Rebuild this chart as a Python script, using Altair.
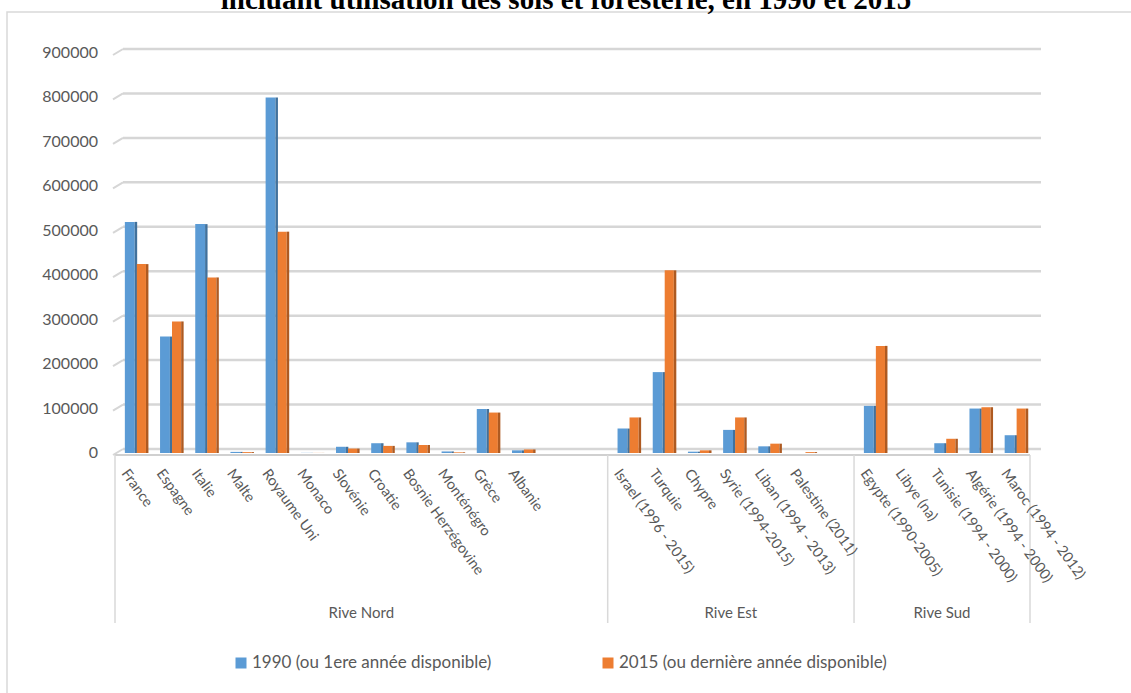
import altair as alt
import pandas as pd

# ---------------- data ----------------
rive_nord = ["France", "Espagne", "Italie", "Malte", "Royaume Uni", "Monaco", "Slovénie",
             "Croatie", "Bosnie Herzégovine", "Monténégro", "Grèce", "Albanie"]
rive_est = ["Israel (1996 - 2015)", "Turquie", "Chypre", "Syrie (1994-2015)",
            "Liban (1994 - 2013)", "Palestine (2011)"]
rive_sud = ["Egypte (1990-2005)", "Libye (na)", "Tunisie (1994 - 2000)",
            "Algérie (1994 - 2000)", "Maroc (1994 - 2012)"]

v1990_nord = [520000, 262000, 515000, 2500, 800000, 300, 14000, 22000, 24000, 3500, 99000, 6000]
v2015_nord = [425000, 296000, 395000, 2000, 498000, 200, 10000, 16000, 18000, 1500, 91000, 8000]
v1990_est = [55000, 182000, 3000, 52000, 15000, None]
v2015_est = [80000, 411000, 6000, 80000, 21000, 2000]
v1990_sud = [106000, None, 22000, 100000, 40000]
v2015_sud = [241000, None, 32000, 103000, 100000]

groups = ["Rive Nord", "Rive Est", "Rive Sud"]
group_slots = [14, 7, 5]          # category slots per group on the axis (incl. empty ones)
series = ["1990 (ou 1ere année disponible)", "2015 (ou dernière année disponible)"]
y_ticks = [0, 100000, 200000, 300000, 400000, 500000, 600000, 700000, 800000, 900000]
title_text = "incluant utilisation des sols et foresterie, en 1990 et 2015"

# ---------------- tables ----------------
rows = []
grp_rows = []
start = 0
for g, names, a, b, n in zip(groups, [rive_nord, rive_est, rive_sud],
                             [v1990_nord, v1990_est, v1990_sud],
                             [v2015_nord, v2015_est, v2015_sud], group_slots):
    for i, name in enumerate(names):
        rows.append({"country": name, "group": g, "slot": start + i, "v1990": a[i], "v2015": b[i]})
    grp_rows.append({"group": g, "start": start, "end": start + n, "mid": start + n / 2})
    start += n
total_slots = start
df = pd.DataFrame(rows)
gdf = pd.DataFrame(grp_rows)
bounds = pd.DataFrame({"b": [0] + list(gdf["end"])})
ticks_df = pd.DataFrame({"t": y_ticks})
one = pd.DataFrame({"k": [0]})

W, H = 915, 400
PL, PT = 115, 53
GREY = "#595959"
FONT = "Lato"
BLUE, BLUE_D = "#5B9BD5", "#41719C"
ORANGE, ORANGE_D = "#ED7D31", "#AE5A21"

xs = alt.Scale(domain=[0, total_slots], nice=False, zero=False)
ys = alt.Scale(domain=[0, 900000], nice=False)

# gridlines + y labels
grid = alt.Chart(ticks_df).mark_rule(color="#d6d6d6", strokeWidth=2.5, yOffset=-4).encode(
    y=alt.Y("t:Q", scale=ys, axis=None), x=alt.value(8), x2=alt.value(926))
slant = alt.Chart(ticks_df).mark_rule(color="#d6d6d6", strokeWidth=2, yOffset=2, y2Offset=-4).encode(
    y=alt.Y("t:Q", scale=ys, axis=None), y2="t:Q", x=alt.value(-2), x2=alt.value(8))
ylabels = alt.Chart(ticks_df).transform_calculate(lab="format(datum.t, 'd')").mark_text(
    align="right", baseline="middle", font=FONT, fontSize=16, color=GREY).encode(
    y=alt.Y("t:Q", scale=ys, axis=None), x=alt.value(98 - PL), text="lab:N")
floor = alt.Chart(one).mark_rule(color="#d0d0d0", strokeWidth=2).encode(
    x=alt.value(0), x2=alt.value(W), y=alt.value(H + 2))

def bar_layer(field, x0, x1, color):
    return alt.Chart(df).transform_filter(f"isValid(datum.{field})").transform_calculate(
        xa=f"datum.slot + {x0}", xb=f"datum.slot + {x1}").mark_rect(color=color).encode(
        x=alt.X("xa:Q", scale=xs, axis=None), x2="xb:Q",
        y=alt.Y(f"{field}:Q", scale=ys, axis=None), y2=alt.datum(0))

bars = [
    bar_layer("v1990", 0.28, 0.56, BLUE),
    bar_layer("v1990", 0.56, 0.63, BLUE_D),
    bar_layer("v2015", 0.62, 0.88, ORANGE),
    bar_layer("v2015", 0.88, 0.95, ORANGE_D),
]

# category labels
cat_labels = alt.Chart(df).transform_calculate(xl="datum.slot + 0.42").mark_text(
    angle=54, align="left", baseline="top", font=FONT, fontSize=14.5, color=GREY).encode(
    x=alt.X("xl:Q", scale=xs, axis=None), y=alt.value(414), text="country:N")

sep = alt.Chart(bounds).mark_rule(color="#d9d9d9", strokeWidth=1.5).encode(
    x=alt.X("b:Q", scale=xs, axis=None), y=alt.value(H + 2), y2=alt.value(570))

grp_labels = alt.Chart(gdf).mark_text(font=FONT, fontSize=15, color=GREY, baseline="middle").encode(
    x=alt.X("mid:Q", scale=xs, axis=None), y=alt.value(560), text="group:N")

# legend
LEG_Y = 663
leg_sq1 = alt.Chart(one).mark_square(size=121, color=BLUE, opacity=1).encode(
    x=alt.value(241 - PL), y=alt.value(LEG_Y - PT))
leg_tx1 = alt.Chart(one).transform_calculate(lab=f"'{series[0]}'").mark_text(
    align="left", baseline="middle", font=FONT, fontSize=17, color=GREY).encode(
    x=alt.value(252 - PL), y=alt.value(LEG_Y - PT), text="lab:N")
leg_sq2 = alt.Chart(one).mark_square(size=121, color=ORANGE, opacity=1).encode(
    x=alt.value(608 - PL), y=alt.value(LEG_Y - PT))
leg_tx2 = alt.Chart(one).transform_calculate(lab=f"'{series[1]}'").mark_text(
    align="left", baseline="middle", font=FONT, fontSize=17, color=GREY).encode(
    x=alt.value(619 - PL), y=alt.value(LEG_Y - PT), text="lab:N")

title = alt.Chart(one).transform_calculate(lab=f"'{title_text}'").mark_text(
    align="center", baseline="alphabetic", font="Liberation Serif", fontSize=29,
    fontWeight="bold", color="black").encode(
    x=alt.value(566 - PL), y=alt.value(9 - PT), text="lab:N")

border = alt.Chart(one).mark_rect(fillOpacity=0, stroke="#d9d9d9", strokeWidth=1.5).encode(
    x=alt.value(7 - PL), y=alt.value(12 - PT), x2=alt.value(1140 - PL), y2=alt.value(700 - PT))

chart = alt.layer(border, grid, slant, floor, *bars, sep, ylabels, cat_labels, grp_labels,
                  leg_sq1, leg_tx1, leg_sq2, leg_tx2, title).properties(
    width=W, height=H, autosize="none",
    padding={"left": PL, "top": PT, "right": 1131 - PL - W, "bottom": 693 - PT - H},
    background="white").configure_view(strokeWidth=0)

chart.save("out.html", embed_options={"renderer": "svg", "actions": False})
